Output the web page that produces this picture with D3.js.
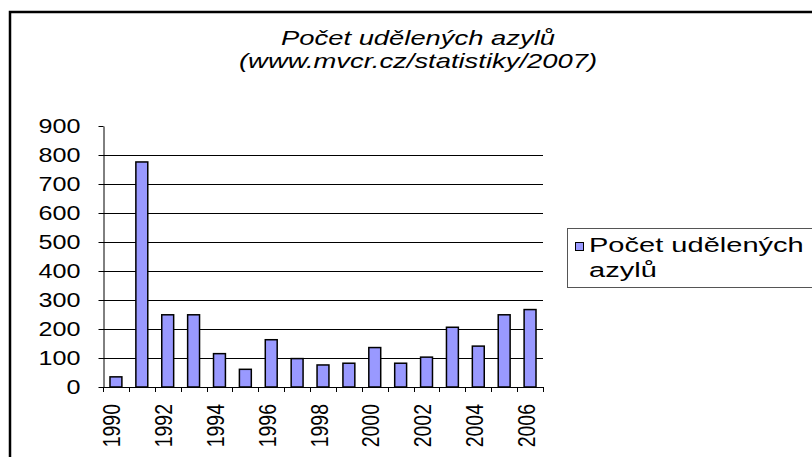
<!DOCTYPE html>
<html>
<head>
<meta charset="utf-8">
<script src="https://cdn.jsdelivr.net/npm/d3@7"></script>
<style>
  body { margin: 0; background: #fff; }
  svg { display: block; font-family: "Liberation Sans", Arial, sans-serif; }
</style>
</head>
<body>
<svg width="812" height="457"></svg>
<script>
const years = ['1990', '1991', '1992', '1993', '1994', '1995', '1996', '1997', '1998',
  '1999', '2000', '2001', '2002', '2003', '2004', '2005', '2006'];
const asylums = [35, 776, 249, 249, 115, 61, 163, 98, 76, 82, 136, 82, 103, 206, 141, 249, 267];
const yTicks = [0, 100, 200, 300, 400, 500, 600, 700, 800, 900];
const shownYears = ['1990', '1992', '1994', '1996', '1998', '2000', '2002', '2004', '2006'];
const seriesName = ['Počet udělených', 'azylů'];
const titleLines = ['Počet udělených azylů', '(www.mvcr.cz/statistiky/2007)'];

const svg = d3.select('svg');
const plotLeft = 103, plotRight = 543, plotTop = 126, plotBottom = 387;

// the original text renders wide, so stretch it horizontally
const stretchY = 1.29, stretchTitle = 1.37, stretchLegend = 1.49, stretchX = 1.2;

// outer chart frame (runs off the right and bottom edge)
svg.append('rect')
  .attr('x', 10).attr('y', 12).attr('width', 820).attr('height', 470)
  .attr('fill', 'none').attr('stroke', '#000').attr('stroke-width', 2.5);

// title
svg.append('g')
  .selectAll('text')
  .data(titleLines)
  .join('text')
  .attr('transform', (d, i) => `translate(418,${45 + i * 23}) scale(${stretchTitle},1)`)
  .attr('text-anchor', 'middle')
  .attr('font-style', 'italic')
  .attr('font-size', 20)
  .text(d => d);

const x = d3.scaleBand().domain(years).range([plotLeft, plotRight]).paddingInner(0.54).paddingOuter(0.27);
const xTick = d3.scaleBand().domain(years).range([plotLeft, plotRight]);
const y = d3.scaleLinear().domain([0, 900]).range([plotBottom, plotTop]);

// gridlines
svg.append('g')
  .selectAll('line')
  .data(yTicks.filter(d => d > 0 && d < 900))
  .join('line')
  .attr('x1', plotLeft).attr('x2', plotRight)
  .attr('y1', d => Math.round(y(d)) + 0.5).attr('y2', d => Math.round(y(d)) + 0.5)
  .attr('stroke', '#000').attr('stroke-width', 1);

// bars
svg.append('g')
  .selectAll('rect')
  .data(asylums)
  .join('rect')
  .attr('x', (d, i) => x(years[i]))
  .attr('y', d => y(d))
  .attr('width', x.bandwidth())
  .attr('height', d => plotBottom - y(d))
  .attr('fill', '#9999ff')
  .attr('stroke', '#000')
  .attr('stroke-width', 1.5);

// y axis
const yAxis = svg.append('g')
  .attr('transform', `translate(${plotLeft + 0.5},0)`)
  .call(d3.axisLeft(y).tickValues(yTicks).tickSize(5).tickSizeOuter(0));
yAxis.select('.domain').attr('stroke', '#000');
yAxis.selectAll('.tick text')
  .attr('x', 0).attr('dy', '0.35em')
  .attr('transform', `translate(${80 - plotLeft},0) scale(${stretchY},1)`)
  .attr('font-size', 19.5)
  .attr('fill', '#000')
  .attr('font-family', 'Liberation Sans, Arial, sans-serif');

// x axis: ticks between categories
const xg = svg.append('g');
xg.append('line')
  .attr('x1', plotLeft).attr('x2', plotRight + 1)
  .attr('y1', plotBottom + 0.5).attr('y2', plotBottom + 0.5)
  .attr('stroke', '#000');
xg.selectAll('line.tick')
  .data(years.concat(['end']))
  .join('line')
  .attr('class', 'tick')
  .attr('x1', (d, i) => Math.round(plotLeft + i * xTick.step()) + 0.5)
  .attr('x2', (d, i) => Math.round(plotLeft + i * xTick.step()) + 0.5)
  .attr('y1', plotBottom).attr('y2', plotBottom + 5)
  .attr('stroke', '#000');
xg.selectAll('text')
  .data(shownYears)
  .join('text')
  .attr('transform', d => `translate(${xTick(d) + xTick.bandwidth() / 2 + 4.5},${plotBottom + 17}) scale(${stretchX},1) rotate(-90)`)
  .attr('text-anchor', 'end')
  .attr('font-size', 19.5)
  .text(d => d);

// legend
const lg = svg.append('g');
lg.append('rect')
  .attr('x', 567.5).attr('y', 228.5).attr('width', 260).attr('height', 59)
  .attr('fill', '#fff').attr('stroke', '#555').attr('stroke-width', 1);
lg.append('rect')
  .attr('x', 575.5).attr('y', 242.5).attr('width', 8).attr('height', 8)
  .attr('fill', '#9999ff').attr('stroke', '#000').attr('stroke-width', 1);
lg.selectAll('text')
  .data(seriesName)
  .join('text')
  .attr('transform', (d, i) => `translate(589,${252 + i * 25}) scale(${stretchLegend},1)`)
  .attr('font-size', 19.5)
  .text(d => d);
</script>
</body>
</html>
